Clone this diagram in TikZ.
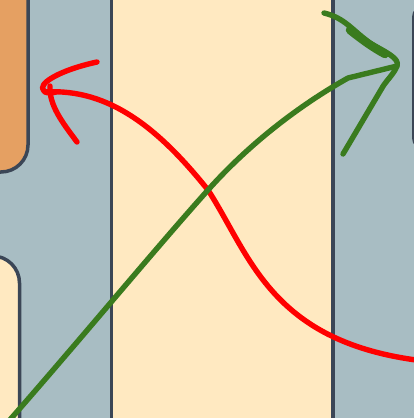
\documentclass[tikz,border=0pt]{standalone}
\definecolor{bgc}{HTML}{A8BDC3}
\definecolor{cream}{HTML}{FFE9C1}
\definecolor{orng}{HTML}{E5A062}
\definecolor{dark}{HTML}{3B4656}
\definecolor{grn}{HTML}{3A7B1E}
\definecolor{rd}{HTML}{FF0000}
\tikzset{
  panel/.style={draw=dark, line width=3.5pt},
  redstroke/.style={draw=rd, line width=5.4pt, line cap=round, line join=round},
  grnstroke/.style={draw=grn, line width=5.4pt, line cap=round, line join=round},
}
\begin{document}
\begin{tikzpicture}[x=1pt,y=-1pt]
\useasboundingbox (0,0) rectangle (414,418);
\clip (0,0) rectangle (414,418);
\fill[bgc] (0,0) rectangle (414,418);
% panels
\path[panel, fill=cream] (111.3,-10) rectangle (333,430);
\path[panel, fill=orng, rounded corners=27pt] (-60,-60) rectangle (28,172);
\path[panel, fill=cream, rounded corners=27pt] (-60,256) rectangle (19.5,480);
\path[panel, fill=bgc, rounded corners=10pt] (413.8,7) rectangle (480,148);
% named points
\coordinate (rs) at (416,360);
\coordinate (rx) at (208,190);
\coordinate (re) at (45,92);
\coordinate (gs) at (8,422);
\coordinate (gx) at (208,190);
\coordinate (gb) at (348,78);
\coordinate (ge) at (397,66);
% red connector
\draw[redstroke] (rs) .. controls (270,340) and (250,255) .. (rx)
  .. controls (160,130) and (110,88) .. (re);
\draw[redstroke] (97,62) .. controls (60,70) and (36,84) .. (44,91) .. controls (47,94) and (52,93) .. (56,92);
\draw[redstroke] (50,86) .. controls (49,105) and (62,122) .. (77,142);
% green connector
\draw[grnstroke] (gs) .. controls (80,340) and (150,255) .. (gx)
  .. controls (250,143) and (300,105) .. (gb) -- (ge);
\draw[grnstroke] (324,13) .. controls (345,18) and (352,30) .. (370,43)
  .. controls (385,52) and (400,58) .. (397,66)
  .. controls (394,74) and (385,82) .. (382,88) -- (343,154);
\draw[grn, line width=8.5pt, line cap=round] (350,30) .. controls (360,38) and (372,47) .. (385,54);
\end{tikzpicture}
\end{document}
